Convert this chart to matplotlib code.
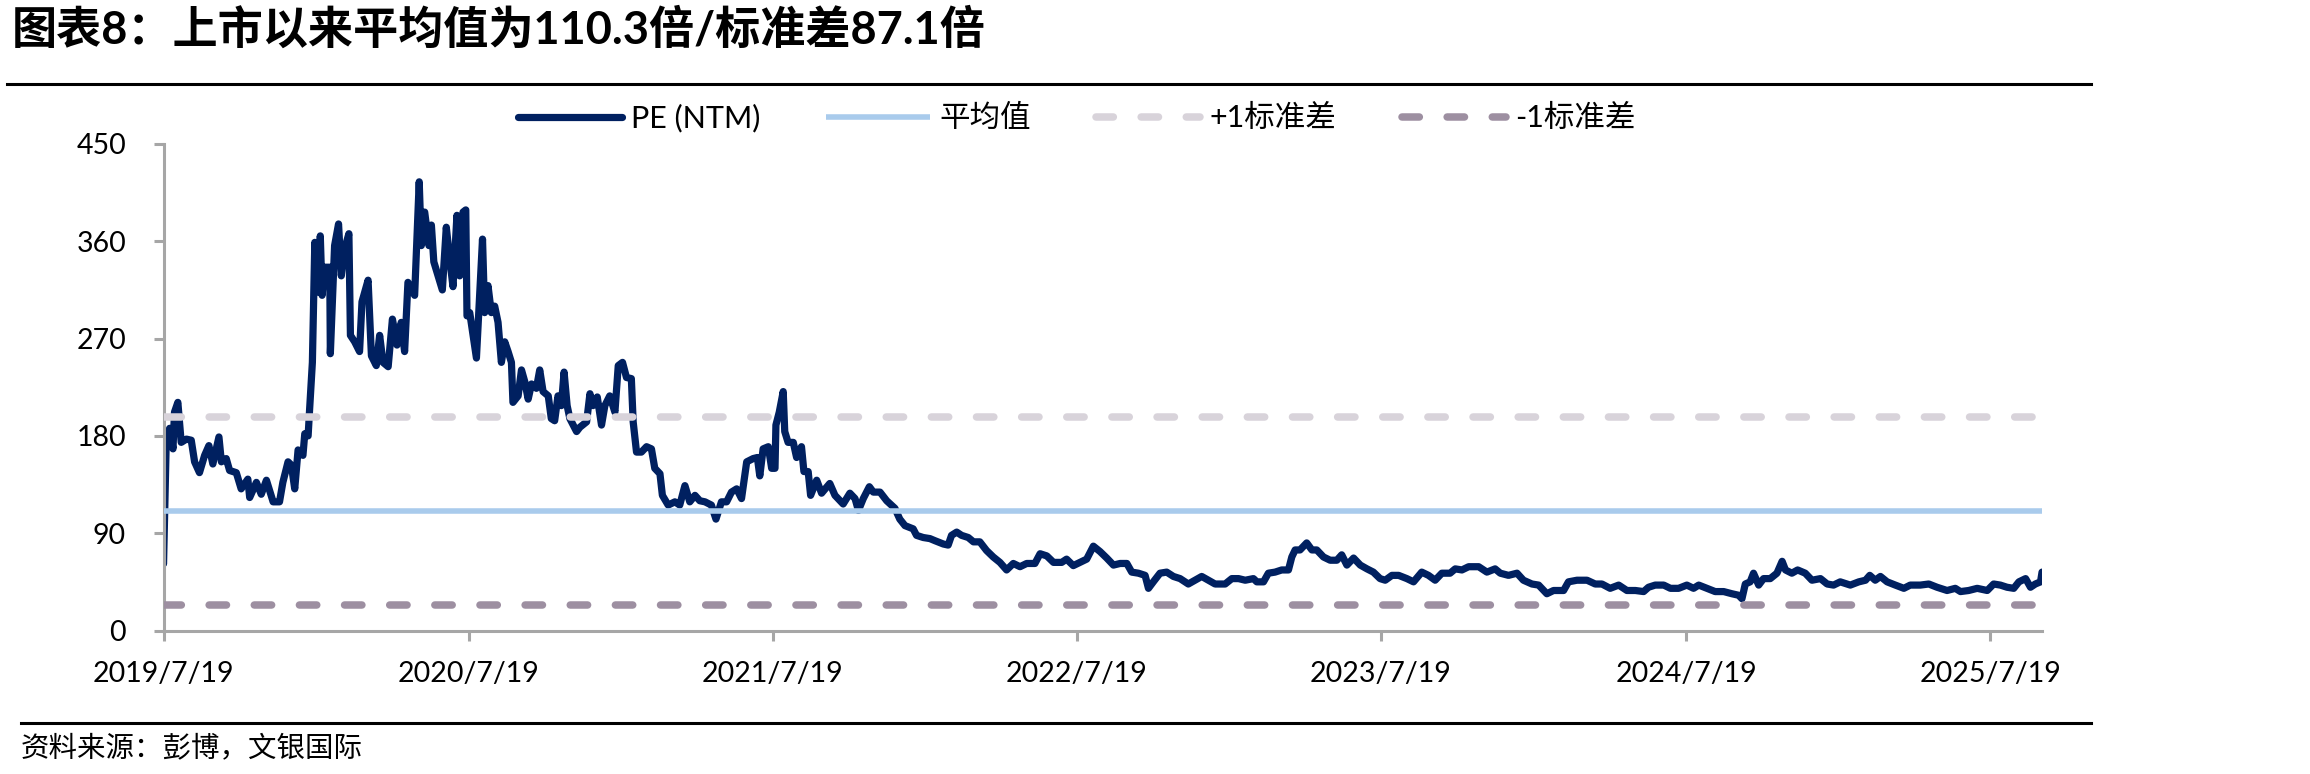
import matplotlib
matplotlib.use("Agg")
import matplotlib.pyplot as plt
from matplotlib.lines import Line2D
import numpy as np
import pandas as pd

plt.rcParams['lines.scale_dashes'] = False

# ---------------- data ----------------
TITLE = "图表8：上市以来平均值为110.3倍/标准差87.1倍"
SOURCE = "资料来源：彭博，文银国际"
SERIES_NAMES = ["PE (NTM)", "平均值", "+1标准差", "-1标准差"]
MEAN = 110.3
STD = 87.1
Y_TICKS = [0, 90, 180, 270, 360, 450]
X_TICK_DATES = ["2019-07-19", "2020-07-19", "2021-07-19", "2022-07-19",
                "2023-07-19", "2024-07-19", "2025-07-19"]
START_DATE = "2019-07-19"

# time in decimal years (2019.547 = 2019/7/19)
years = [
    2019.547, 2019.556, 2019.567, 2019.578, 2019.583, 2019.594, 2019.605, 2019.622, 2019.638, 2019.649,
    2019.665, 2019.682, 2019.696, 2019.709, 2019.729, 2019.737, 2019.753, 2019.764, 2019.786, 2019.802,
    2019.824, 2019.830, 2019.852, 2019.868, 2019.885, 2019.907, 2019.928, 2019.939, 2019.956, 2019.967,
    2019.978, 2019.989, 2020.005, 2020.011, 2020.022, 2020.027, 2020.036, 2020.044, 2020.055, 2020.062,
    2020.068, 2020.076, 2020.093, 2020.095, 2020.109, 2020.122, 2020.131, 2020.142, 2020.156, 2020.161,
    2020.175, 2020.191, 2020.199, 2020.219, 2020.230, 2020.246, 2020.257, 2020.268, 2020.285, 2020.299,
    2020.314, 2020.328, 2020.339, 2020.350, 2020.372, 2020.378, 2020.387, 2020.394, 2020.405, 2020.419,
    2020.427, 2020.435, 2020.449, 2020.463, 2020.476, 2020.487, 2020.498, 2020.511, 2020.520, 2020.531,
    2020.540, 2020.544,
    2020.553, 2020.564, 2020.575, 2020.595, 2020.602, 2020.613, 2020.624, 2020.635, 2020.646, 2020.657,
    2020.668, 2020.679, 2020.690, 2020.695, 2020.712, 2020.723, 2020.734, 2020.745, 2020.756, 2020.772,
    2020.783, 2020.794, 2020.811, 2020.821, 2020.832, 2020.843, 2020.854, 2020.863, 2020.873, 2020.882,
    2020.904, 2020.915, 2020.937, 2020.948, 2020.958, 2020.972, 2020.986, 2020.997, 2021.013, 2021.030,
    2021.041, 2021.055, 2021.068, 2021.084, 2021.090, 2021.101, 2021.117, 2021.134, 2021.150, 2021.161,
    2021.178, 2021.186, 2021.205, 2021.227, 2021.243, 2021.260, 2021.276, 2021.293, 2021.309, 2021.326,
    2021.347, 2021.362, 2021.380, 2021.397, 2021.413, 2021.430, 2021.446, 2021.463, 2021.484, 2021.498,
    2021.506, 2021.517, 2021.534, 2021.545, 2021.556, 2021.559, 2021.570, 2021.583,
    2021.588, 2021.599, 2021.616, 2021.627, 2021.643, 2021.651, 2021.665, 2021.673, 2021.693, 2021.709,
    2021.736, 2021.753, 2021.780, 2021.802, 2021.819, 2021.830, 2021.846, 2021.866, 2021.879, 2021.901,
    2021.923, 2021.950, 2021.966, 2021.983, 2022.010, 2022.021, 2022.043, 2022.065, 2022.082, 2022.109,
    2022.125, 2022.136, 2022.153, 2022.169, 2022.191, 2022.208, 2022.229, 2022.251, 2022.273, 2022.295,
    2022.317, 2022.339, 2022.361, 2022.383, 2022.410, 2022.427, 2022.449, 2022.471, 2022.498, 2022.514,
    2022.536, 2022.558, 2022.580,
    2022.602, 2022.624, 2022.646, 2022.668, 2022.690, 2022.712, 2022.728, 2022.750, 2022.772, 2022.783,
    2022.799, 2022.821, 2022.843, 2022.865, 2022.887, 2022.914, 2022.936, 2022.958, 2022.980, 2023.002,
    2023.035, 2023.057, 2023.079, 2023.101, 2023.128, 2023.139, 2023.161, 2023.177, 2023.199, 2023.221,
    2023.243, 2023.254, 2023.265, 2023.281, 2023.303, 2023.320, 2023.336, 2023.358, 2023.380, 2023.402,
    2023.418, 2023.435, 2023.457, 2023.479, 2023.501, 2023.522, 2023.544, 2023.561, 2023.583, 2023.605,
    2023.632, 2023.654, 2023.681, 2023.703, 2023.725, 2023.747, 2023.774, 2023.791, 2023.813, 2023.835,
    2023.868, 2023.895, 2023.922, 2023.939, 2023.966, 2023.994, 2024.015, 2024.043, 2024.065, 2024.092,
    2024.114, 2024.147, 2024.163, 2024.191, 2024.224, 2024.251, 2024.273, 2024.300, 2024.328, 2024.355,
    2024.383, 2024.410, 2024.426, 2024.448, 2024.476, 2024.498, 2024.525, 2024.552, 2024.574, 2024.591,
    2024.618,
    2024.645, 2024.673, 2024.700, 2024.722, 2024.733, 2024.744, 2024.760, 2024.771, 2024.788, 2024.804,
    2024.826, 2024.848, 2024.865, 2024.876, 2024.897, 2024.916, 2024.941, 2024.963, 2024.991, 2025.013,
    2025.034, 2025.056, 2025.089, 2025.117, 2025.139, 2025.153, 2025.171, 2025.188, 2025.210, 2025.237,
    2025.265, 2025.286, 2025.319, 2025.347, 2025.374, 2025.407, 2025.434, 2025.451, 2025.478, 2025.506,
    2025.539, 2025.560, 2025.582, 2025.604, 2025.626, 2025.643, 2025.665, 2025.681, 2025.697, 2025.714,
    2025.719,
]

pe_ntm = [
    61.7, 177, 187, 168, 202, 211, 174, 177, 176, 156,
    146, 162, 171, 154, 179, 156, 159, 148, 146, 131,
    140, 123, 137, 126, 139, 119, 119, 137, 156, 153,
    131, 167, 162, 182, 180, 205, 248, 359, 313, 365,
    310, 336, 336, 256, 356, 376, 328, 353, 367, 273,
    267, 258, 304, 324, 254, 245, 273, 248, 244, 288,
    264, 285, 258, 322, 310, 353, 415, 356, 387, 356,
    375, 341, 328, 315, 373, 344, 318, 384, 328, 387,
    389, 291,
    294, 273, 252, 362, 294, 319, 294, 300, 285, 248,
    267, 258, 248, 211, 217, 241, 230, 214, 228, 224,
    241, 221, 217, 196, 194, 217, 208, 239, 208, 196,
    184, 188, 193, 219, 208, 216, 190, 208, 217, 202,
    245, 248, 234, 233, 193, 165, 165, 170, 168, 150,
    145, 125, 116, 119, 116, 134, 119, 125, 120, 119,
    116, 103, 119, 119, 128, 131, 122, 156, 159, 160,
    143, 168, 170, 150, 150, 190, 202, 221,
    184, 174, 174, 160, 170, 147, 147, 125, 139, 127,
    136, 125, 117, 127, 122, 111, 122, 133, 128, 128,
    120, 113, 103, 97, 94, 88, 86, 85, 83, 80,
    79, 88, 91, 88, 86, 82, 82, 74, 68, 63,
    56, 62, 59, 62, 62, 71, 69, 63, 63, 66,
    60, 63, 66,
    78, 73, 67, 60.5, 62, 62, 54, 53, 51, 39,
    45, 53, 54, 50, 48, 43, 46.5, 50, 46.5, 43,
    43, 48, 48, 46.5, 48, 45, 45, 53, 54, 56,
    56, 68, 74.5, 74.5, 81, 74.5, 74.5, 68, 65, 65,
    70, 60.5, 67, 60.5, 57, 54, 48, 46.5, 51, 51,
    48, 45, 54, 51, 46.5, 53, 53, 57, 56, 59,
    59, 54, 57, 53, 51, 53, 46.5, 43, 42, 34,
    37, 37, 45, 46.5, 46.5, 43, 43, 39, 42, 37,
    37, 36, 40, 42, 42, 39, 39, 42, 39, 42,
    39,
    36, 36, 34, 32.6, 29.4, 43, 45, 53, 42, 48,
    48, 53, 64, 56, 53, 56, 53, 46.5, 48, 43,
    42, 45, 42, 45, 46.5, 51, 46.5, 50, 45, 42,
    39, 42, 42, 43, 40, 37, 39, 36, 37, 39,
    37, 43, 42, 40, 39, 45, 48, 40, 43, 45,
    54,
]

# ---------------- colours ----------------
C_PE = "#002060"
C_MEAN = "#A9CBEC"
C_UP = "#D8D3DA"
C_DN = "#9D8FA1"
C_AX = "#A6A6A6"

FONT = ["Lato", "Noto Sans CJK SC", "DejaVu Sans"]

# ---------------- build dates ----------------
start = pd.Timestamp(START_DATE)
yrs = np.array(years)
dates = start + pd.to_timedelta((yrs - yrs[0]) * 365.25, unit="D")
d0, d1 = dates[0], dates[-1]

fig = plt.figure(figsize=(23.1, 7.74), dpi=100)
ax = fig.add_axes([0.0708, 0.1854, 0.884 - 0.0708, 0.814 - 0.1854])

ax.plot(dates, pe_ntm, color=C_PE, lw=5.2, solid_joinstyle="round",
        solid_capstyle="round", zorder=2, label=SERIES_NAMES[0])
ax.plot([d0, d1], [MEAN, MEAN], color=C_MEAN, lw=4.0, zorder=3,
        solid_capstyle="butt", label=SERIES_NAMES[1])
ax.plot([d0, d1], [MEAN + STD, MEAN + STD], color=C_UP, lw=5.4, zorder=3,
        dashes=(12.5, 20.0), dash_capstyle="round", label=SERIES_NAMES[2])
ax.plot([d0, d1], [MEAN - STD, MEAN - STD], color=C_DN, lw=5.4, zorder=3,
        dashes=(12.5, 20.0), dash_capstyle="round", label=SERIES_NAMES[3])

ax.set_xlim(d0, d1)
ax.set_ylim(Y_TICKS[0], Y_TICKS[-1])

for s in ["top", "right"]:
    ax.spines[s].set_visible(False)
for s in ["left", "bottom"]:
    ax.spines[s].set_color(C_AX)
    ax.spines[s].set_linewidth(2.2)

ax.set_yticks(Y_TICKS)
ax.set_yticklabels([str(v) for v in Y_TICKS], fontfamily=FONT, fontsize=20.5)
xt = [pd.Timestamp(d) for d in X_TICK_DATES]
ax.set_xticks(xt)
ax.set_xticklabels([f"{d.year}/{d.month}/{d.day}" for d in xt], fontfamily=FONT, fontsize=20.5)
ax.tick_params(axis="y", direction="out", length=7, width=2.2, color=C_AX, pad=20)
ax.tick_params(axis="x", direction="out", length=7, width=2.2, color=C_AX, pad=15)

handles, labels = ax.get_legend_handles_labels()
leg = fig.legend(handles, labels, loc="center", bbox_to_anchor=(0.466, 0.8475),
                 ncol=4, frameon=False, handlelength=3.4, handletextpad=0.3,
                 columnspacing=2.15, prop={"family": FONT, "size": 22})

fig.text(0.005, 0.961, TITLE, fontfamily=FONT, fontsize=32.5, fontweight="bold",
         ha="left", va="center")
fig.add_artist(Line2D([0.003, 0.905], [1 - 84 / 774] * 2, color="black", lw=2.2,
                      transform=fig.transFigure))
fig.add_artist(Line2D([0.009, 0.905], [1 - 723 / 774] * 2, color="black", lw=2.2,
                      transform=fig.transFigure))
fig.text(0.009, 1 - 748 / 774, SOURCE, fontfamily=["Noto Sans CJK SC", "DejaVu Sans"],
         fontsize=20.5, ha="left", va="center", style="italic")

fig.savefig("out.png", dpi=100)
